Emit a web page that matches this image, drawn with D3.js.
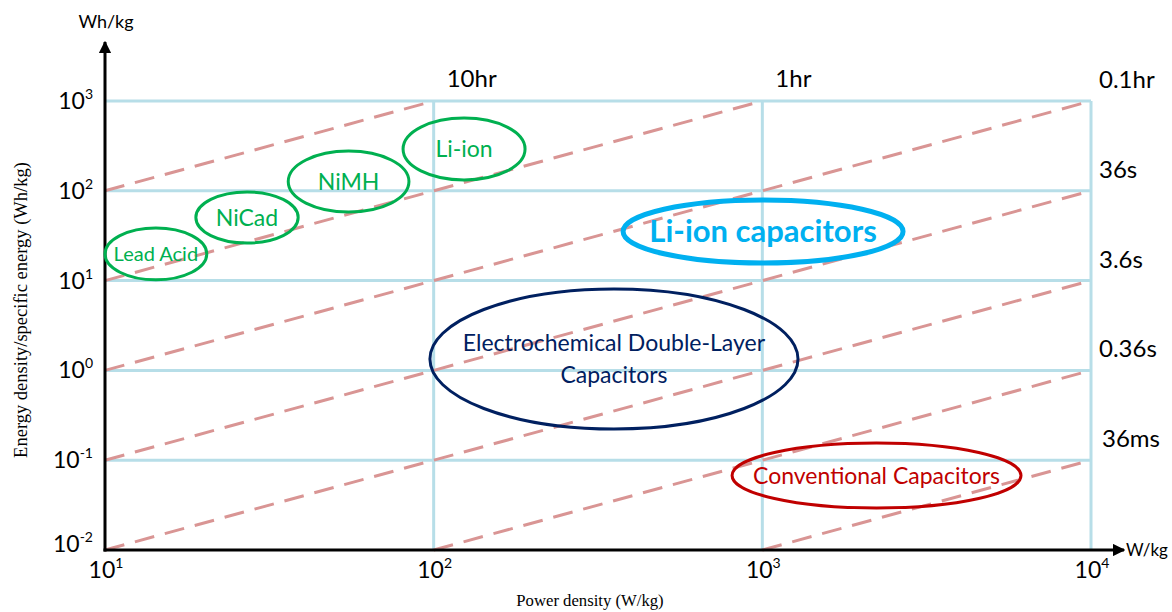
<!DOCTYPE html>
<html>
<head>
<meta charset="utf-8">
<script src="https://cdn.jsdelivr.net/npm/d3@7"></script>
<style>
  body { margin: 0; background: #fff; }
  svg { display: block; }
</style>
</head>
<body>
<script>
// decades on both axes
var powerTicks = [1e1, 1e2, 1e3, 1e4];
var powerTickExp = ["1", "2", "3", "4"];
var energyTicks = [1e-2, 1e-1, 1e0, 1e1, 1e2, 1e3];
var energyTickExp = ["-2", "-1", "0", "1", "2", "3"];

// constant discharge time lines (E/P in hours)
var timeHours = [10, 1, 0.1, 0.01, 0.001, 0.0001, 0.00001];
var timeLabels = ["10hr", "1hr", "0.1hr", "36s", "3.6s", "0.36s", "36ms"];

// device regions: [Pmin, Pmax, Emin, Emax] in W/kg and Wh/kg
var deviceNames = ["Lead Acid", "NiCad", "NiMH", "Li-ion", "Li-ion capacitors",
  "Electrochemical Double-Layer|Capacitors", "Conventional Capacitors"];
var deviceBounds = [
  [10, 20.4, 10.2, 38.5],
  [18.9, 38.7, 26.2, 97],
  [36.1, 84.1, 58, 277],
  [80.7, 189.7, 132, 647],
  [377, 2680, 15.7, 79],
  [97.4, 1284, 0.2226, 8.06],
  [809, 6124, 0.02936, 0.1554]
];
var deviceColors = ["#00b050", "#00b050", "#00b050", "#00b050", "#00b0f0", "#002060", "#c00000"];
var deviceFont = [20, 23, 23, 23, 31, 23, 23];

var W = 1172, H = 612;
var svg = d3.select("body").append("svg").attr("width", W).attr("height", H);

var x = d3.scaleLog().domain([1e1, 1e4]).range([105, 1091]);
var y = d3.scaleLog().domain([1e-2, 1e3]).range([550, 101]);

var sans = "Lato, 'Open Sans', sans-serif";
var serif = "'Liberation Serif', 'DejaVu Serif', serif";

// grid
var grid = svg.append("g").attr("stroke", "#b7dee8").attr("stroke-width", 3);
energyTicks.slice(1).forEach(function(e) {
  grid.append("line").attr("x1", x(1e1)).attr("x2", x(1e4)).attr("y1", y(e)).attr("y2", y(e));
});
powerTicks.slice(1).forEach(function(p) {
  grid.append("line").attr("x1", x(p)).attr("x2", x(p)).attr("y1", y(1e-2)).attr("y2", y(1e3));
});

// dashed time lines
var tl = svg.append("g");
timeHours.forEach(function(t, i) {
  var p0 = Math.max(1e1, 1e-2 / t), p1 = Math.min(1e4, 1e3 / t);
  tl.append("line")
    .attr("x1", x(p0)).attr("y1", y(p0 * t))
    .attr("x2", x(p1)).attr("y2", y(p1 * t))
    .attr("stroke", "#d99594").attr("stroke-width", 3)
    .attr("stroke-dasharray", "20,11");
  var lx, ly;
  if (p1 < 1e4) { lx = x(p1) + 13; ly = y(1e3) - 14; }
  else { lx = x(1e4) + 8 + (i == 6 ? 3 : 0); ly = y(p1 * t) - 13; }
  tl.append("text").attr("x", lx).attr("y", ly)
    .attr("font-family", sans).attr("font-size", 24).attr("fill", "#000")
    .text(timeLabels[i]);
});

// axes with arrows
svg.append("defs").append("marker")
  .attr("id", "arr").attr("viewBox", "0 0 10 10").attr("refX", 9).attr("refY", 5)
  .attr("markerWidth", 4.2).attr("markerHeight", 4.2).attr("orient", "auto")
  .append("path").attr("d", "M0,0L10,5L0,10Z").attr("fill", "#000");
svg.append("line").attr("x1", x(1e1)).attr("y1", y(1e-2) + 1.5).attr("x2", x(1e1)).attr("y2", 42)
  .attr("stroke", "#000").attr("stroke-width", 3).attr("marker-end", "url(#arr)");
svg.append("line").attr("x1", x(1e1) - 1.5).attr("y1", y(1e-2)).attr("x2", 1124).attr("y2", y(1e-2))
  .attr("stroke", "#000").attr("stroke-width", 3).attr("marker-end", "url(#arr)");

// tick labels
energyTicks.forEach(function(e, i) {
  var t = svg.append("text").attr("x", 93).attr("y", y(e) + (i == 0 ? 2 : 8))
    .attr("text-anchor", "end").attr("font-family", sans).attr("font-size", 23).attr("fill", "#000");
  t.append("tspan").text("10");
  t.append("tspan").attr("dy", -10).attr("font-size", 14).text(energyTickExp[i]);
});
powerTicks.forEach(function(p, i) {
  var t = svg.append("text").attr("x", x(p) + 1).attr("y", 578)
    .attr("text-anchor", "middle").attr("font-family", sans).attr("font-size", 23).attr("fill", "#000");
  t.append("tspan").text("10");
  t.append("tspan").attr("dy", -10).attr("font-size", 14).text(powerTickExp[i]);
});

// unit labels and titles
svg.append("text").attr("x", 106).attr("y", 28).attr("text-anchor", "middle")
  .attr("font-family", sans).attr("font-size", 18).text("Wh/kg");
svg.append("text").attr("x", 1126).attr("y", 556)
  .attr("font-family", sans).attr("font-size", 17).text("W/kg");
svg.append("text").attr("x", 590).attr("y", 606).attr("text-anchor", "middle")
  .attr("font-family", serif).attr("font-size", 16.7).text("Power density (W/kg)");
svg.append("text").attr("transform", "translate(27,310) rotate(-90)").attr("text-anchor", "middle")
  .attr("font-family", serif).attr("font-size", 18.5).text("Energy density/specific energy (Wh/kg)");

// device ellipses
deviceBounds.forEach(function(b, i) {
  var x0 = x(b[0]), x1 = x(b[1]), y0 = y(b[3]), y1 = y(b[2]);
  var cx = (x0 + x1) / 2, cy = (y0 + y1) / 2;
  var big = i == 4;
  svg.append("ellipse").attr("cx", cx).attr("cy", cy)
    .attr("rx", (x1 - x0) / 2).attr("ry", (y1 - y0) / 2)
    .attr("fill", "none").attr("stroke", deviceColors[i]).attr("stroke-width", big ? 5 : 3);
  var lines = deviceNames[i].split("|");
  var lh = 32;
  lines.forEach(function(s, k) {
    svg.append("text").attr("x", cx).attr("y", cy + (k - (lines.length - 1) / 2) * lh + deviceFont[i] * 0.35)
      .attr("text-anchor", "middle").attr("font-family", sans)
      .attr("font-size", deviceFont[i]).attr("font-weight", big ? "bold" : "normal")
      .attr("fill", deviceColors[i]).text(s);
  });
});
</script>
</body>
</html>
